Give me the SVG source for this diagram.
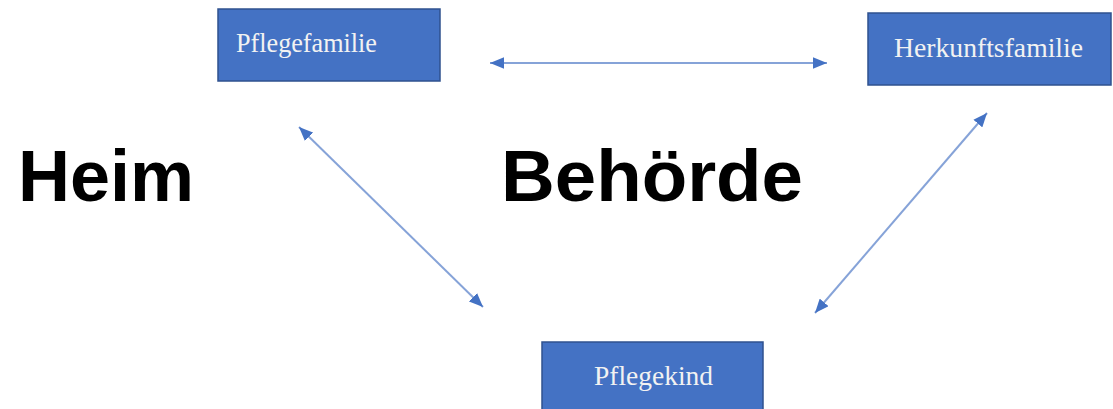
<svg xmlns="http://www.w3.org/2000/svg" width="1113" height="409" viewBox="0 0 1113 409">
  <style>
    .box { fill: #4472c4; stroke: #2f528f; stroke-width: 1.5; }
    .lbl { font-family: "Liberation Serif", "Times New Roman", serif; font-size: 27px; fill: #f2f2f2; }
    .big { font-family: "Liberation Sans", Arial, sans-serif; font-size: 72px; font-weight: bold; fill: #000; }
    .conn { stroke: #86a3d8; stroke-width: 2; fill: none; marker-start: url(#ah); marker-end: url(#ah); }
  </style>
  <defs>
    <marker id="ah" viewBox="0 0 12 10" refX="12" refY="5" markerWidth="14" markerHeight="12" markerUnits="userSpaceOnUse" orient="auto-start-reverse">
      <path d="M0,0 L12,5 L0,10 z" fill="#4472c4"/>
    </marker>
  </defs>
  <rect width="1113" height="409" fill="#ffffff"/>
  <g id="connectors">
    <line class="conn" x1="490" y1="63" x2="827" y2="63"/>
    <line class="conn" x1="299" y1="127" x2="483" y2="307"/>
    <line class="conn" x1="987" y1="113" x2="815" y2="313"/>
  </g>
  <g id="pflegefamilie">
    <rect class="box" x="218" y="9" width="222" height="72"/>
    <text class="lbl" x="236" y="52" textLength="141" lengthAdjust="spacingAndGlyphs">Pflegefamilie</text>
  </g>
  <g id="herkunftsfamilie">
    <rect class="box" x="868" y="13" width="243" height="72"/>
    <text class="lbl" x="894" y="57" textLength="189" lengthAdjust="spacingAndGlyphs">Herkunftsfamilie</text>
  </g>
  <g id="pflegekind">
    <rect class="box" x="542" y="342" width="221" height="72"/>
    <text class="lbl" x="594" y="385" textLength="119" lengthAdjust="spacingAndGlyphs">Pflegekind</text>
  </g>
  <g id="heim">
    <text class="big" x="18" y="201">Heim</text>
  </g>
  <g id="behoerde">
    <text class="big" x="501" y="201" textLength="302" lengthAdjust="spacingAndGlyphs">Behörde</text>
  </g>
</svg>
